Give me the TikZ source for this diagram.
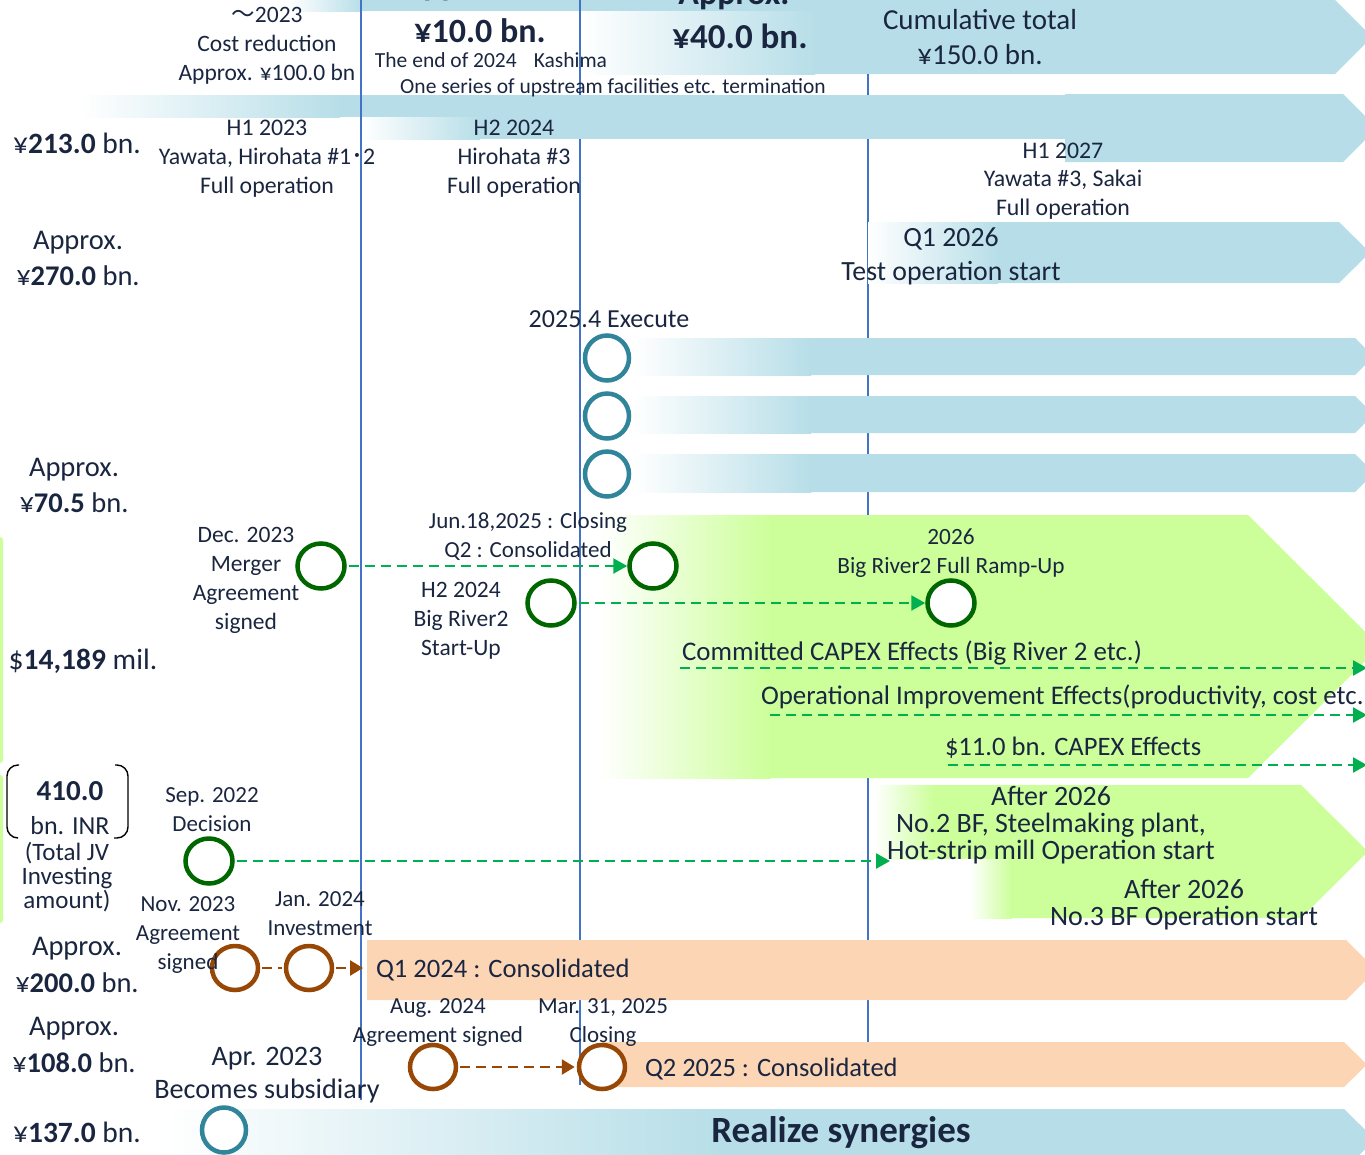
\documentclass[tikz,border=0pt]{standalone}
\usepackage{fontspec}
\setmainfont{Carlito}
\newfontfamily\cjk{Noto Sans CJK JP}
\usetikzlibrary{arrows.meta,shapes.geometric}
\definecolor{barblue}{RGB}{183,222,232}
\definecolor{tealc}{RGB}{49,133,155}
\definecolor{limec}{RGB}{204,255,153}
\definecolor{peachc}{RGB}{252,213,181}
\definecolor{vlinec}{RGB}{68,114,196}
\definecolor{ink}{RGB}{26,38,64}
\definecolor{dgreen}{RGB}{0,102,0}
\definecolor{agreen}{RGB}{0,176,80}
\definecolor{brownc}{RGB}{152,72,6}
\tikzset{
  lbl/.style={text=ink, inner sep=0pt, outer sep=0pt},
  ml/.style={lbl, text width=440pt, align=flush center, anchor=base},
  sl/.style={lbl, anchor=base},
  sw/.style={lbl, anchor=base west},
  vl/.style={draw=vlinec, line width=1.5pt},
  gcirc/.style={ellipse, draw=dgreen, line width=4.5pt, fill=white, minimum width=47pt, minimum height=45pt, inner sep=0pt},
  bcirc/.style={ellipse, draw=brownc, line width=4.5pt, fill=white, minimum width=46pt, minimum height=44pt, inner sep=0pt},
  tcirc/.style={ellipse, draw=tealc, line width=4.5pt, fill=white, minimum width=44pt, minimum height=45pt, inner sep=0pt},
  garrow/.style={draw=agreen, line width=2.4pt, dash pattern=on 10pt off 6pt, shorten <=2pt, -{Triangle[length=14pt,width=15pt]}},
  bdash/.style={draw=brownc, line width=2.6pt, dash pattern=on 10pt off 6pt, shorten <=2pt, shorten >=2pt},
  barrow/.style={bdash, -{Triangle[length=13pt,width=15pt]}},
  bluefade/.style={left color=white, right color=barblue},
  limefade/.style={left color=white, right color=limec},
}
\begin{document}
\begin{tikzpicture}[x=1pt,y=-1pt]
\useasboundingbox (0,0) rectangle (1365,1154);
\clip (0,0) rectangle (1365,1154);
% ---------- top bar ----------
\fill[barblue] (290,0) -- (1335,0) -- (1372,37) -- (1335,74) -- (580,74) -- (580,11) -- (290,11) -- cycle;
\shade[bluefade] (290,0) rectangle (362,11);
\shade[bluefade] (580,11) rectangle (815,74);
% ---------- vertical lines (under bars) ----------
\draw[vl] (580,0) -- (580,1085);
\draw[vl] (868,74) -- (868,1042);
% ---------- row 2 ----------
\shade[bluefade] (362,95) rectangle (480,139);
\fill[barblue] (479,95) rectangle (1070,139);
\shade[bluefade] (80,95) rectangle (340,117);
\fill[barblue] (339,95) rectangle (1070,117);
\fill[barblue] (1065,94) -- (1343,94) -- (1377,128) -- (1343,162) -- (1065,162) -- cycle;
% ---------- row 3 ----------
\shade[bluefade] (868,222) rectangle (998,283);
\fill[barblue] (997,222) -- (1339,222) -- (1370,252.5) -- (1339,283) -- (997,283) -- cycle;
% ---------- execute bars ----------
\foreach \ya/\yb in {338/375, 396/433, 454/492}{
  \shade[bluefade] (633,\ya) rectangle (811,\yb);
  \fill[barblue] (810,\ya) -- (1355,\ya) -- ({1355+(\yb-\ya)/2},{(\ya+\yb)/2}) -- (1355,\yb) -- (810,\yb) -- cycle;
}
% ---------- big green ----------
\shade[limefade] (600,515) rectangle (771,778);
\fill[limec] (770,515) -- (1248,515) -- (1380,646.5) -- (1248,778) -- (770,778) -- cycle;
% ---------- india green ----------
\shade[limefade] (970,859) rectangle (1012,918);
\fill[limec] (1011,785) -- (1301,785) -- (1368,851.5) -- (1301,918) -- (1011,918) -- cycle;
\shade[limefade] (874,785) rectangle (934,859);
\fill[limec] (933,785) rectangle (1012,859);
% left edge strips
\fill[limec, rounded corners=3pt] (-10,537) rectangle (3,763);
\fill[limec, rounded corners=3pt] (-10,775) rectangle (3,923);
% ---------- peach bars ----------
\fill[peachc] (367,940) -- (1346,940) -- (1376,970) -- (1346,1000) -- (367,1000) -- cycle;
\fill[peachc] (602,1042) -- (1344,1042) -- (1367,1064.5) -- (1344,1087) -- (602,1087) -- cycle;
% ---------- bottom bar ----------
\shade[bluefade] (165,1109) rectangle (721,1170);
\fill[barblue] (720,1109) -- (1344,1109) -- (1375,1139.5) -- (1344,1170) -- (720,1170) -- cycle;
% line on top
\draw[vl] (361,0) -- (361,1100);
% bracket
\draw[black, line width=1.4pt, rounded corners=11pt] (19,765) -- (7,765) -- (7,838) -- (18,838);
\draw[black, line width=1.4pt, rounded corners=11pt] (115,765) -- (128,765) -- (128,838) -- (114,838);

% ---------- circles ----------
\node[tcirc] (ce1) at (607,358) {};
\node[tcirc] (ce2) at (607,416) {};
\node[tcirc] (ce3) at (607,474) {};
\node[tcirc] (csyn) at (224,1130) {};
\node[gcirc] (cdec) at (321,566) {};
\node[gcirc] (cjun) at (653,566) {};
\node[gcirc] (ch2) at (551,603) {};
\node[gcirc] (c2026) at (951,603) {};
\node[gcirc] (csep) at (209,861) {};
\node[bcirc] (cnov) at (235,968) {};
\node[bcirc] (cjan) at (309,968) {};
\node[bcirc] (caug) at (433,1067) {};
\node[bcirc] (cmar) at (602,1067) {};
% ---------- coordinates ----------
\coordinate (indiaend) at (890,861);
\coordinate (thaiend) at (365,968);
\coordinate (k1s) at (678,668);  \coordinate (k1e) at (1367,668);
\coordinate (k2s) at (768,715);  \coordinate (k2e) at (1367,715);
\coordinate (k3s) at (946,765);  \coordinate (k3e) at (1367,765);
% ---------- arrows ----------
\draw[garrow] (cdec) -- (cjun);
\draw[garrow] (ch2) -- (c2026);
\draw[garrow] (csep) -- (indiaend);
\draw[garrow] (k1s) -- (k1e);
\draw[garrow] (k2s) -- (k2e);
\draw[garrow] (k3s) -- (k3e);
\draw[bdash] (cnov) -- (cjan);
\draw[barrow] (cjan) -- (thaiend);
\draw[barrow] (caug) -- (cmar);

% ---------- texts ----------
\node[ml, font=\fontsize{23.5}{29}\selectfont] (t2023) at (267,22) {{\cjk ～}2023\\Cost reduction\\Approx. ¥100.0 bn};
\node[sl, font=\fontsize{34}{40}\selectfont\bfseries] (apx1) at (458,-5) {Approx.};
\node[sl, font=\fontsize{34}{40}\selectfont\bfseries] (apx2) at (734,4) {Approx.};
\node[sl, font=\fontsize{34}{40}\selectfont\bfseries] (y10) at (480,42) {¥10.0 bn.};
\node[sl, font=\fontsize{35}{40}\selectfont\bfseries] (y40) at (740,48) {¥40.0 bn.};
\node[sl, font=\fontsize{21.5}{26}\selectfont] (end24) at (491,67) {The end of 2024\hspace{17pt}Kashima};
\node[sl, font=\fontsize{21.5}{26}\selectfont] (oneser) at (613,93) {One series of upstream facilities etc. termination};
\node[ml, font=\fontsize{29}{35}\selectfont] (cum) at (980,29) {Cumulative total\\¥150.0 bn.};

\node[sl, font=\fontsize{29.5}{35}\selectfont] (v213) at (77,153) {¥\textbf{213.0} bn.};
\node[ml, font=\fontsize{23.8}{29}\selectfont] (h123) at (267,135) {H1 2023\\Yawata, Hirohata \#1{\cjk ･}2\\Full operation};
\node[ml, font=\fontsize{23.8}{29}\selectfont] (h224) at (514,135) {H2 2024\\Hirohata \#3\\Full operation};
\node[ml, font=\fontsize{23.8}{28.5}\selectfont] (h127) at (1063,158) {H1 2027\\Yawata \#3, Sakai\\Full operation};

\node[ml, font=\fontsize{28.5}{36}\selectfont] (v270) at (78,249) {Approx.\\¥\textbf{270.0} bn.};
\node[ml, font=\fontsize{27.8}{34}\selectfont] (q126) at (951,246) {Q1 2026\\Test operation start};

\node[sl, font=\fontsize{26}{30}\selectfont] (exec) at (609,327) {2025.4 Execute};
\node[ml, font=\fontsize{28.5}{36}\selectfont] (v705) at (74,476) {Approx.\\¥\textbf{70.5} bn.};

\node[ml, font=\fontsize{23}{29}\selectfont] (jun) at (528,528) {Jun.18,2025 : Closing\\Q2 : Consolidated};
\node[ml, font=\fontsize{23.5}{29}\selectfont] (dec) at (246,542) {Dec. 2023\\Merger\\Agreement\\signed};
\node[ml, font=\fontsize{23.5}{29}\selectfont] (h2br) at (461,597) {H2 2024\\Big River2\\Start-Up};
\node[ml, font=\fontsize{23.3}{29}\selectfont] (ramp) at (951,544) {2026\\Big River2 Full Ramp-Up};
\node[sl, font=\fontsize{29.5}{35}\selectfont] (v14189) at (83,669) {\$\textbf{14,189} mil.};
\node[sw, font=\fontsize{26.9}{30}\selectfont] (capex1) at (682,660) {Committed CAPEX Effects (Big River 2 etc.)};
\node[sw, font=\fontsize{26.9}{30}\selectfont] (opimp) at (761,704) {Operational Improvement Effects(productivity, cost etc.};
\node[sw, font=\fontsize{26.6}{30}\selectfont] (capex2) at (945,755) {\$11.0 bn. CAPEX Effects};

\node[sl, font=\fontsize{29}{35}\selectfont\bfseries] (v410) at (70,800) {410.0};
\node[sl, font=\fontsize{26}{30}\selectfont] (inr) at (70,834) {bn. INR};
\node[ml, font=\fontsize{25}{24}\selectfont] (tjv) at (67,860) {(Total JV\\Investing\\amount)};
\node[ml, font=\fontsize{23}{29}\selectfont] (sep) at (212,802) {Sep. 2022\\Decision};
\node[ml, font=\fontsize{28}{27}\selectfont] (aft1) at (1051,805) {After 2026\\No.2 BF, Steelmaking plant,\\Hot-strip mill Operation start};
\node[ml, font=\fontsize{28}{27}\selectfont] (aft2) at (1184,898) {After 2026\\No.3 BF Operation start};

\node[ml, font=\fontsize{28.5}{37}\selectfont] (v200) at (77,955) {Approx.\\¥\textbf{200.0} bn.};
\node[ml, font=\fontsize{23}{29}\selectfont] (nov) at (188,911) {Nov. 2023\\Agreement\\signed};
\node[ml, font=\fontsize{23}{29}\selectfont] (jan) at (320,906) {Jan. 2024\\Investment};
\node[sw, font=\fontsize{26.6}{30}\selectfont] (q124) at (376,977) {Q1 2024 : Consolidated};

\node[ml, font=\fontsize{28.5}{37}\selectfont] (v108) at (74,1035) {Approx.\\¥\textbf{108.0} bn.};
\node[ml, font=\fontsize{23}{29}\selectfont] (aug) at (438,1013) {Aug. 2024\\Agreement signed};
\node[ml, font=\fontsize{23}{29}\selectfont] (mar) at (603,1013) {Mar. 31, 2025\\Closing};
\node[ml, font=\fontsize{28.2}{33}\selectfont] (apr) at (267,1065) {Apr. 2023\\Becomes subsidiary};
\node[sw, font=\fontsize{26.5}{30}\selectfont] (q225) at (645,1076) {Q2 2025 : Consolidated};
\node[sl, font=\fontsize{29.5}{35}\selectfont] (v137) at (77,1142) {¥\textbf{137.0} bn.};
\node[sl, font=\fontsize{37}{42}\selectfont\bfseries] (realize) at (841,1142) {Realize synergies};
\end{tikzpicture}
\end{document}
